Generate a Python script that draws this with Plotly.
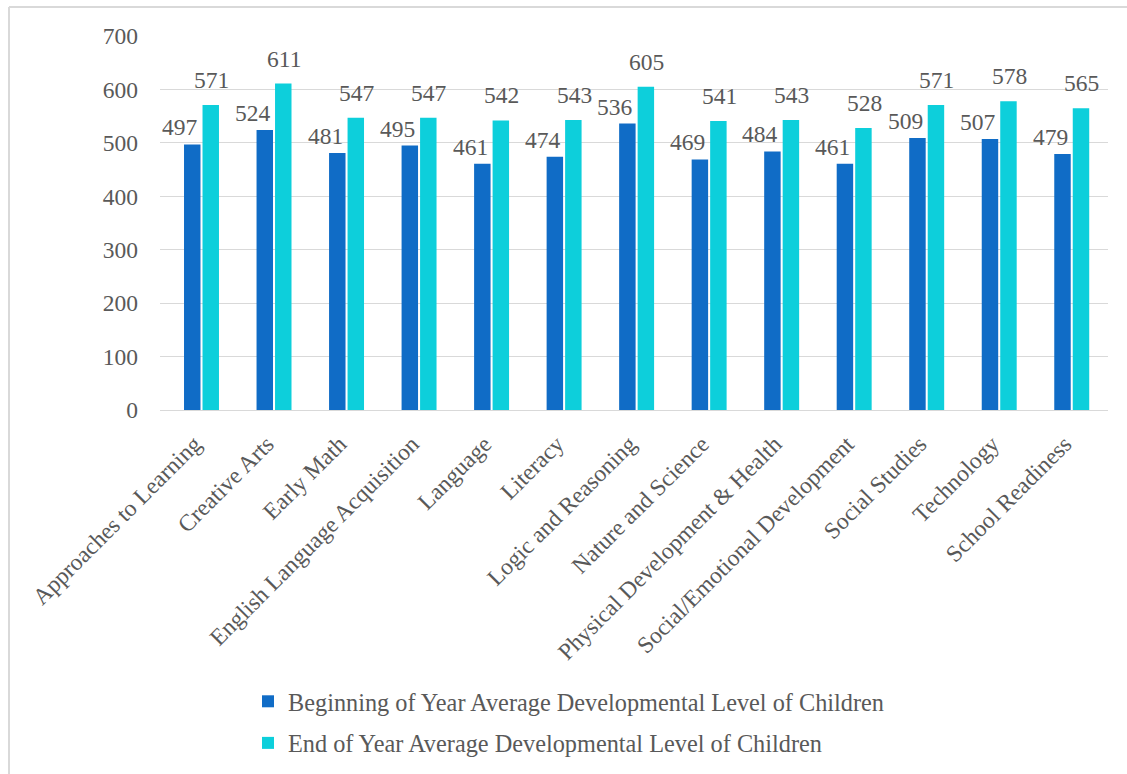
import plotly.graph_objects as go

categories = ["Approaches to Learning", "Creative Arts", "Early Math",
              "English Language Acquisition", "Language", "Literacy",
              "Logic and Reasoning", "Nature and Science",
              "Physical Development & Health", "Social/Emotional Development",
              "Social Studies", "Technology", "School Readiness"]
beginning = [497, 524, 481, 495, 461, 474, 536, 469, 484, 461, 509, 507, 479]
end_year = [571, 611, 547, 547, 542, 543, 605, 541, 543, 528, 571, 578, 565]
series_names = ["Beginning of Year Average Developmental Level of Children",
                "End of Year Average Developmental Level of Children"]

FONT = "Liberation Serif"
TXT = "#595959"
FS = 23.5

W, H = 1127, 774
L, R, T, B = 160, W - 1108, 36, H - 410
pw, ph = W - L - R, H - T - B

def px(x):
    return (x - L) / pw

def py(y):
    return (H - B - y) / ph

fig = go.Figure()
series = [(series_names[0], beginning, "#106CC6", "g1", -21.5, 2),
          (series_names[1], end_year, "#0DCFDB", "g2", 10, 10)]
for name, vals, col, grp, xs, ys in series:
    fig.add_trace(go.Bar(
        x=categories, y=vals, name=name, marker_color=col,
        legendgroup=grp, marker_line_width=0, hoverinfo="skip",
    ))
    for c, v in zip(categories, vals):
        fig.add_annotation(x=c, y=v, text=str(v), showarrow=False,
                           xanchor="center", yanchor="bottom",
                           xshift=xs, yshift=ys,
                           font=dict(family=FONT, size=FS, color=TXT))

fig.update_layout(
    width=W, height=H,
    margin=dict(l=L, r=R, t=T, b=B, autoexpand=False),
    paper_bgcolor="white", plot_bgcolor="white",
    barmode="group", bargap=0.49, bargroupgap=0.11,
    font=dict(family=FONT, size=FS, color=TXT),
    showlegend=True,
    legend=dict(orientation="v", x=px(248), y=py(679), xanchor="left", yanchor="top",
                font=dict(family=FONT, size=24.3, color=TXT),
                itemwidth=30, tracegroupgap=7, bgcolor="rgba(0,0,0,0)"),
    xaxis=dict(tickangle=-45, showgrid=False, showline=True, linecolor="#D9D9D9",
               linewidth=1, ticks="", automargin=False, ticklabelstandoff=10,
               ticklabelshift=-7,
               tickfont=dict(family=FONT, size=23.5, color=TXT)),
    yaxis=dict(range=[0, 700], dtick=100, showgrid=True, gridcolor="#D9D9D9",
               gridwidth=1, zeroline=False, showline=False, ticks="",
               automargin=False, ticklabelstandoff=21,
               tickfont=dict(family=FONT, size=FS, color=TXT)),
)

fig.add_shape(type="line", xref="paper", yref="paper",
              x0=px(9), x1=px(1200), y0=py(7), y1=py(7),
              line=dict(color="#D9D9D9", width=2))
fig.add_shape(type="line", xref="paper", yref="paper",
              x0=px(9), x1=px(9), y0=py(7), y1=py(800),
              line=dict(color="#D9D9D9", width=2))

fig.write_html("out.html", config={"displayModeBar": False},
               post_script="document.body.style.margin='0px';document.body.style.overflow='hidden';")
